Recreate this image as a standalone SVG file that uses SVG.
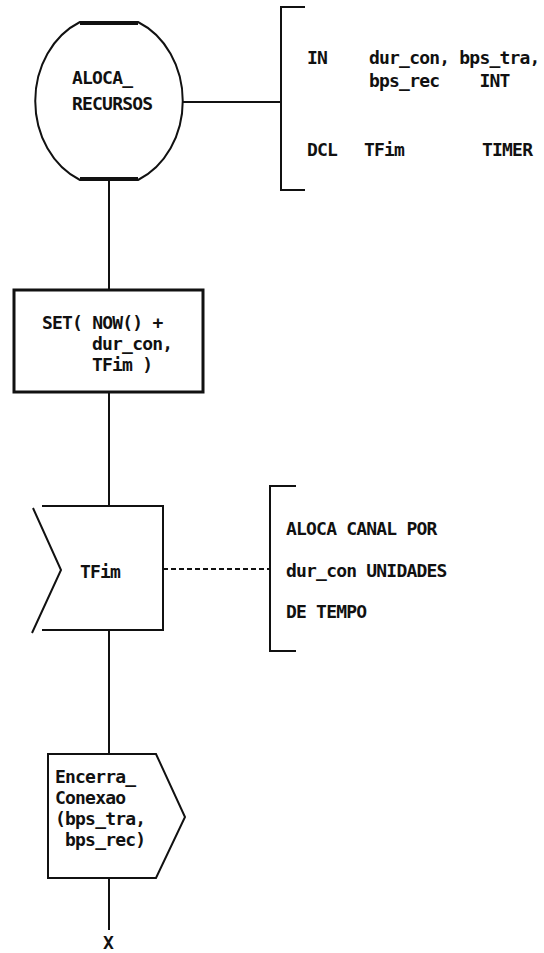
<svg xmlns="http://www.w3.org/2000/svg" width="544" height="953" viewBox="0 0 544 953">
<style>
.t{font-family:"DejaVu Sans Mono","Liberation Mono",monospace;font-weight:bold;font-size:18px;letter-spacing:-0.8px;fill:#111}
.s{fill:#fff;stroke:#111;stroke-width:2}
.l{fill:none;stroke:#111;stroke-width:2}
</style>
<rect width="544" height="953" fill="#fff"/>
<g id="connectors">
<line class="l" x1="109" y1="180" x2="109" y2="289"/>
<line class="l" x1="109" y1="392" x2="109" y2="506"/>
<line class="l" x1="109" y1="630" x2="109" y2="754"/>
<line class="l" x1="109" y1="878" x2="109" y2="930"/>
<line class="l" x1="183" y1="102" x2="281" y2="102"/>
<line class="l" x1="163" y1="569" x2="270" y2="569" stroke-dasharray="5,3"/>
</g>
<g id="start">
<path class="s" d="M80,22 H138 A74 86 0 0 1 138,180 H80 A74 86 0 0 1 80,22 Z"/>
<line x1="80" y1="23" x2="138" y2="23" stroke="#111" stroke-width="4"/>
<line x1="80" y1="179" x2="138" y2="179" stroke="#111" stroke-width="4"/>
<text class="t" x="72" y="84">ALOCA_</text>
<text class="t" x="72" y="110">RECURSOS</text>
</g>
<g id="decl">
<path class="l" d="M305,7 H281 V190 H305"/>
<text class="t" x="307" y="64">IN</text>
<text class="t" x="369" y="64">dur_con, bps_tra,</text>
<text class="t" x="369" y="87" xml:space="preserve">bps_rec    INT</text>
<text class="t" x="307" y="156">DCL</text>
<text class="t" x="364" y="156">TFim</text>
<text class="t" x="482" y="156">TIMER</text>
</g>
<g id="set">
<rect x="14" y="290" width="189" height="102" fill="#fff" stroke="#111" stroke-width="3"/>
<text class="t" x="42" y="329" xml:space="preserve">SET( NOW() +</text>
<text class="t" x="92" y="350">dur_con,</text>
<text class="t" x="92" y="371">TFim )</text>
</g>
<g id="input">
<path class="l" d="M42,506 H163 V630 H42"/>
<path class="l" d="M33,508 L61,570 L32,633"/>
<text class="t" x="80" y="578">TFim</text>
</g>
<g id="comment">
<path class="l" d="M296,486 H270 V651 H296"/>
<text class="t" x="286" y="535">ALOCA CANAL POR</text>
<text class="t" x="286" y="577">dur_con UNIDADES</text>
<text class="t" x="286" y="618">DE TEMPO</text>
</g>
<g id="output">
<path class="s" d="M48,754 H156 L185,817 L156,878 H48 Z"/>
<text class="t" x="55" y="783">Encerra_</text>
<text class="t" x="55" y="804">Conexao</text>
<text class="t" x="55" y="825">(bps_tra,</text>
<text class="t" x="55" y="846" xml:space="preserve"> bps_rec)</text>
</g>
<g id="end">
<text class="t" x="103" y="949">X</text>
</g>
</svg>
